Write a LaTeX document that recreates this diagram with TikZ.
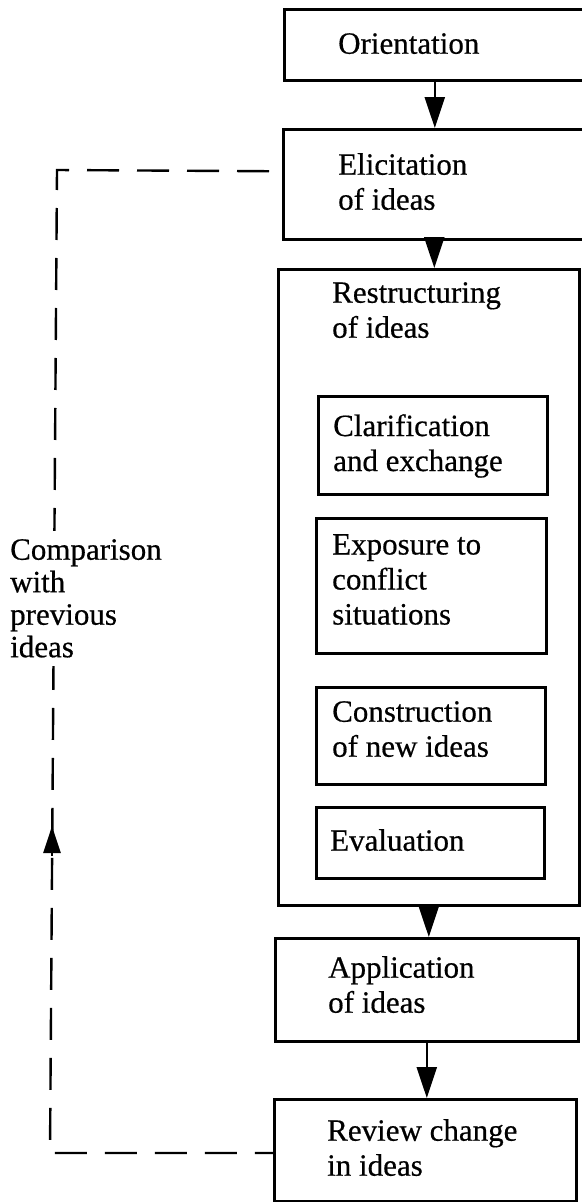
\documentclass[tikz,border=0pt]{standalone}
\usepackage{fontspec}
\setmainfont{Liberation Serif}
\usetikzlibrary{arrows.meta}
\newcommand{\reffont}{\fontsize{31}{35}\selectfont\addfontfeature{FakeBold=0.5}}
\newcommand{\labfont}{\fontsize{31}{32.5}\selectfont\addfontfeature{FakeBold=0.5}}
\begin{document}
\begin{tikzpicture}[x=1pt,y=-1pt,
  box/.style={draw=black, line width=2.6pt, rectangle, inner sep=0pt, anchor=north west},
  txt/.style={anchor=north west, inner sep=0pt, align=left, font=\reffont},
  arr/.style={line width=2.4pt, -{Triangle[length=31pt,width=20pt]}},
  backarr/.style={line width=2.4pt, -{Triangle[length=27pt,width=17pt]}},
  dashline/.style={line width=2.4pt, dash pattern=on 32pt off 18pt, dash phase=37pt},
]
\useasboundingbox (0,0) rectangle (581,1202);

% boxes
\node[box, minimum width=301pt, minimum height=71pt]  (orient) at (283,8) {};
\node[box, minimum width=302pt, minimum height=110pt] (elicit) at (282,128) {};
\node[box, minimum width=301pt, minimum height=636pt] (restr)  at (277,268) {};
\node[box, minimum width=229pt, minimum height=98pt]  (clar)   at (317,395) {};
\node[box, minimum width=230pt, minimum height=135pt] (expo)   at (315,517) {};
\node[box, minimum width=229pt, minimum height=97pt]  (constr) at (315,686) {};
\node[box, minimum width=228pt, minimum height=71pt]  (evalb)  at (315,806) {};
\node[box, minimum width=303pt, minimum height=103pt] (appl)   at (274,937) {};
\node[box, minimum width=302pt, minimum height=102pt] (review) at (273,1098) {};

% texts
\node[txt] (orientT) at (338,33)  {Orientation};
\node[txt] (elicitT) at (338,153) {Elicitation\\of ideas};
\node[txt] (restrT)  at (332,282) {Restructuring\\of ideas};
\node[txt] (clarT)   at (333,414) {Clarification\\and exchange};
\node[txt] (expoT)   at (332,534) {Exposure to\\conflict\\situations};
\node[txt] (constrT) at (332,701) {Construction\\of new ideas};
\node[txt] (evalT)   at (330,829) {Evaluation};
\node[txt] (applT)   at (328,956) {Application\\of ideas};
\node[txt] (reviewT) at (327,1119) {Review change\\in ideas};

% main arrows
\draw[arr] (orient.south) -- (orient.south |- elicit.north);
\draw[arr] (elicit.south) -- (elicit.south |- restr.north);
\draw[arr] (restr.south)  -- (restr.south |- appl.north);
\draw[arr] (appl.south)   -- (appl.south |- review.north);

% feedback loop
\coordinate (cTop) at (57,170);
\coordinate (cBot) at (50,1153);
\draw[dashline] ([yshift=13pt]elicit.west) -- (cTop) -- (cBot) -- (cBot -| review.west);
\coordinate (aBase) at (52,856);
\coordinate (aTip) at (52,826);
\draw[backarr] (aBase) -- (aTip);

\node[txt, fill=white, inner ysep=8pt, font=\labfont] (compT) at (10,531)
  {Comparison\\with\\previous\\ideas};
\end{tikzpicture}
\end{document}
